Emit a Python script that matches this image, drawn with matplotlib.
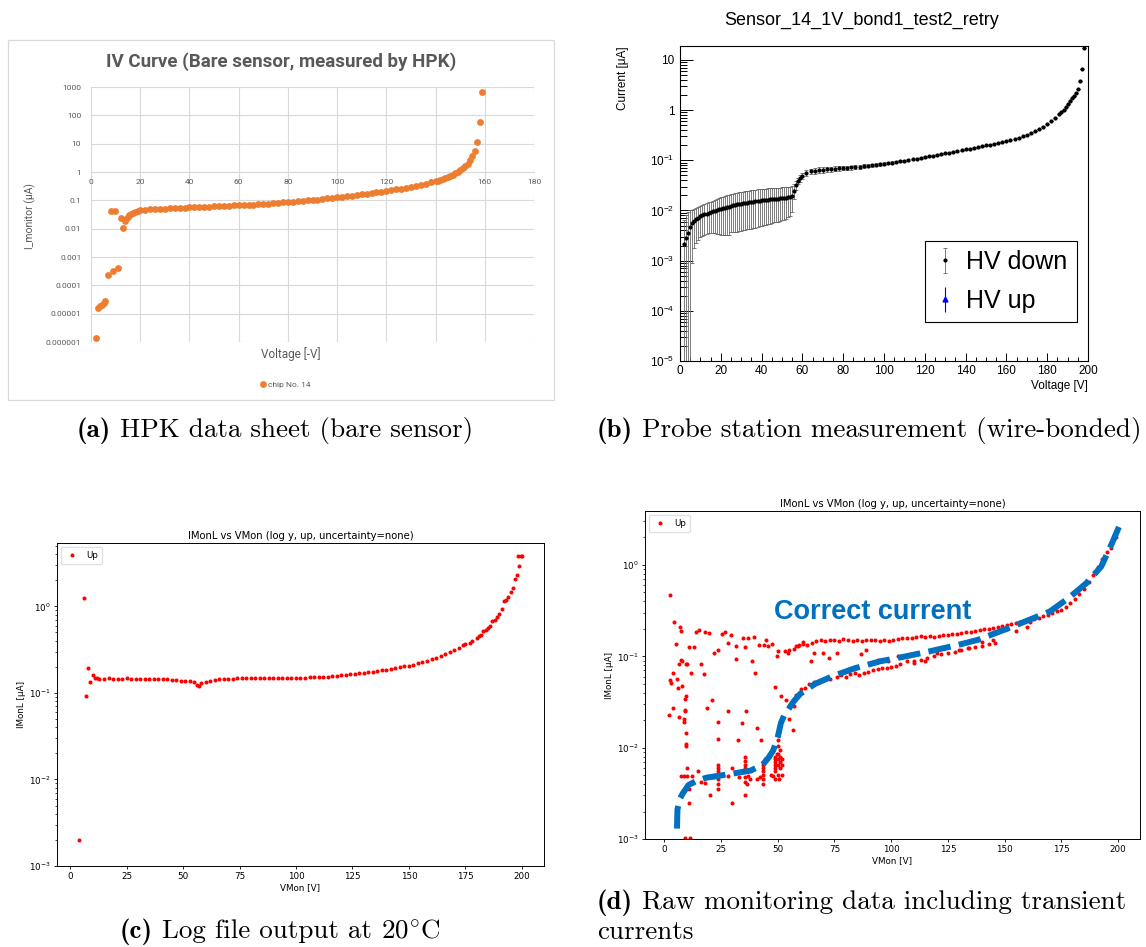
import numpy as np
import matplotlib
matplotlib.use('Agg')
import matplotlib.pyplot as plt
from matplotlib.patches import Rectangle
from matplotlib.ticker import NullLocator, NullFormatter, LogLocator, MultipleLocator
from matplotlib.offsetbox import TextArea, HPacker, AnchoredOffsetbox

W, H = 1146, 947

# ---------------- (a) HPK data sheet ----------------
a_v = [1.9, 2.9, 3.6, 4.3, 5.1, 5.8, 6.8, 8.0, 8.8, 9.8,
       10.9, 12.0, 12.9, 13.9, 14.4, 14.9, 15.5, 16.2, 17.0, 18.0,
       19.0, 20, 22, 24, 26, 28, 30, 32, 34, 36,
       38, 40, 42, 44, 46, 48, 50, 52, 54, 56,
       58, 60, 62, 64, 66, 68, 70, 72, 74, 76,
       78, 80, 82, 84, 86, 88, 90, 92, 94, 96,
       98, 100, 102, 104, 106, 108, 110, 112, 114, 116,
       118, 120, 122, 124, 126, 128, 130, 132, 134, 136,
       138, 140, 141, 142, 143, 144, 145, 146, 147, 148,
       149, 150, 151, 152, 153, 154, 155, 156, 157, 158,
       159]
a_i = [1.4e-6, 1.6e-5, 1.8e-5, 2.1e-5, 2.4e-5, 2.9e-5, 2.4e-4, 0.043, 3.1e-4, 0.042,
       4.2e-4, 0.023, 0.0102, 0.018, 0.022, 0.026, 0.030, 0.034, 0.037, 0.040,
       0.043, 0.045, 0.047, 0.048, 0.049, 0.050, 0.051, 0.052, 0.053, 0.054,
       0.055, 0.056, 0.057, 0.058, 0.059, 0.060, 0.061, 0.062, 0.063, 0.064,
       0.066, 0.067, 0.068, 0.070, 0.071, 0.073, 0.075, 0.077, 0.079, 0.082,
       0.084, 0.087, 0.090, 0.093, 0.096, 0.100, 0.103, 0.107, 0.112, 0.117,
       0.123, 0.130, 0.136, 0.142, 0.148, 0.155, 0.162, 0.171, 0.180, 0.190,
       0.201, 0.213, 0.227, 0.242, 0.260, 0.280, 0.300, 0.325, 0.355, 0.390,
       0.430, 0.470, 0.500, 0.530, 0.560, 0.600, 0.660, 0.720, 0.800, 0.900,
       1.02, 1.17, 1.35, 1.60, 1.95, 2.6, 3.6, 5.7, 11.3, 60,
       690]
a_yticks = [1e-6, 1e-5, 1e-4, 1e-3, 1e-2, 1e-1, 1, 10, 100, 1000]
a_ylabels = ['0.000001', '0.00001', '0.0001', '0.001', '0.01', '0.1', '1', '10', '100', '1000']
a_xticks = [0, 20, 40, 60, 80, 100, 120, 140, 160, 180]

# ---------------- (b) probe station ----------------
b_v = [2, 3, 4, 5, 6, 7, 8, 9, 10, 11,
       12, 13, 14, 15, 16, 17, 18, 19, 20, 21,
       22, 23, 24, 25, 26, 27, 28, 29, 30, 31,
       32, 33, 34, 35, 36, 37, 38, 39, 40, 41,
       42, 43, 44, 45, 46, 47, 48, 49, 50, 51,
       52, 53, 54, 55, 56, 57, 58, 59, 60, 62,
       64, 66, 68, 70, 72, 74, 76, 78, 80, 82,
       84, 86, 88, 90, 92, 94, 96, 98, 100, 102,
       104, 106, 108, 110, 112, 114, 116, 118, 120, 122,
       124, 126, 128, 130, 132, 134, 136, 138, 140, 142,
       144, 146, 148, 150, 152, 154, 156, 158, 160, 162,
       164, 166, 168, 170, 172, 174, 176, 178, 180, 182,
       184, 186, 187, 188, 189, 190, 191, 192, 193, 194,
       195, 196, 197, 198]
b_i = [0.0021, 0.0028, 0.0036, 0.0047, 0.0056, 0.0063, 0.0068, 0.0072, 0.0076, 0.0080,
       0.0084, 0.0087, 0.0090, 0.0093, 0.0096, 0.0099, 0.0102, 0.0105, 0.0108, 0.0110,
       0.0113, 0.0116, 0.0118, 0.0125, 0.0127, 0.0129, 0.0132, 0.0135, 0.0137, 0.0139,
       0.0141, 0.0143, 0.0146, 0.0148, 0.0150, 0.0152, 0.0155, 0.0158, 0.0160, 0.0161,
       0.0163, 0.0165, 0.0167, 0.0168, 0.0170, 0.0171, 0.0172, 0.0174, 0.0176, 0.0178,
       0.0180, 0.0183, 0.0187, 0.0198, 0.025, 0.032, 0.039, 0.044, 0.049, 0.056,
       0.060, 0.062, 0.064, 0.065, 0.066, 0.067, 0.068, 0.069, 0.070, 0.071,
       0.072, 0.074, 0.075, 0.077, 0.078, 0.080, 0.082, 0.084, 0.086, 0.088,
       0.090, 0.093, 0.095, 0.098, 0.101, 0.104, 0.108, 0.112, 0.116, 0.120,
       0.124, 0.129, 0.133, 0.138, 0.143, 0.148, 0.153, 0.159, 0.165, 0.171,
       0.177, 0.184, 0.191, 0.198, 0.205, 0.213, 0.222, 0.232, 0.242, 0.254,
       0.268, 0.283, 0.300, 0.325, 0.355, 0.385, 0.420, 0.470, 0.530, 0.600,
       0.700, 0.830, 0.920, 1.02, 1.15, 1.32, 1.52, 1.75, 1.93, 2.17,
       2.62, 3.8, 6.7, 17.6]
b_e = [0.0045, 0.0052, 0.0058, 0.0055, 0.0047, 0.0045, 0.0045, 0.0046, 0.0047, 0.0049,
       0.0051, 0.0053, 0.0055, 0.0058, 0.0061, 0.0064, 0.0068, 0.0071, 0.0075, 0.0077,
       0.0080, 0.0083, 0.0085, 0.0088, 0.0090, 0.0092, 0.0094, 0.0096, 0.0098, 0.0099,
       0.0100, 0.0101, 0.0103, 0.0105, 0.0106, 0.0107, 0.0108, 0.0109, 0.0110, 0.0110,
       0.0111, 0.0111, 0.0112, 0.0112, 0.0112, 0.0112, 0.0112, 0.0112, 0.0112, 0.0112,
       0.0111, 0.0110, 0.0110, 0.0105, 0.0080, 0.0060, 0.0060, 0.0065, 0.0070, 0.0075,
       0.0078, 0.0080, 0.0080, 0.0080, 0.0080, 0.0078, 0.0076, 0.0074, 0.0072, 0.0070,
       0.0068, 0.0066, 0.0064, 0.0062, 0.0060, 0.0058, 0.0056, 0.0054, 0.0052, 0.0050,
       0.0048, 0.0046, 0.0044, 0.0042, 0.0040, 0.0040, 0.0040, 0.0040, 0.0040, 0.0040,
       0.0040, 0.0040, 0.0040, 0.0040, 0.0040, 0.0040, 0.0040, 0.0040, 0.0040, 0.0040,
       0.0040, 0.0040, 0.0040, 0.0040, 0.0040, 0.0040, 0.0040, 0.0040, 0.0040, 0.0040,
       0.0040, 0.0040, 0.0040, 0.0040, 0.0040, 0.0040, 0.0040, 0.0040, 0.0040, 0.0040,
       0.0040, 0.0040, 0.0040, 0.0040, 0.0040, 0.0040, 0.0040, 0.0040, 0.0040, 0.0040,
       0.0040, 0.0040, 0.0040, 0.0040]
b_yticks = [1e-5, 1e-4, 1e-3, 1e-2, 1e-1, 1, 10]
b_ylabels = [r'$\mathdefault{10^{-5}}$', r'$\mathdefault{10^{-4}}$', r'$\mathdefault{10^{-3}}$',
             r'$\mathdefault{10^{-2}}$', r'$\mathdefault{10^{-1}}$', '1', '10']

# ---------------- (c) log file output ----------------
c_v = [4, 6, 7, 8, 9, 10, 11, 12, 13, 15,
       17, 19, 21, 23, 25, 27, 29, 31, 33, 35,
       37, 39, 41, 43, 45, 47, 49, 51, 53, 55,
       56, 57, 58, 60, 62, 64, 66, 68, 70, 72,
       74, 76, 78, 80, 82, 84, 86, 88, 90, 92,
       94, 96, 98, 100, 102, 104, 106, 108, 110, 112,
       114, 116, 118, 120, 122, 124, 126, 128, 130, 132,
       134, 136, 138, 140, 142, 144, 146, 148, 150, 152,
       154, 156, 158, 160, 162, 164, 166, 168, 170, 172,
       174, 175, 177, 178, 180, 181, 182, 183, 184, 185,
       186, 187, 188, 189, 190, 191, 192, 193, 194, 195,
       196, 197, 197.8, 198.2, 198.8, 199.6, 200]
c_i = [0.002, 1.24, 0.091, 0.195, 0.133, 0.16, 0.15, 0.147, 0.144, 0.146,
       0.147, 0.146, 0.146, 0.146, 0.147, 0.146, 0.146, 0.146, 0.145, 0.145,
       0.144, 0.144, 0.143, 0.143, 0.142, 0.14, 0.139, 0.138, 0.137, 0.135,
       0.123, 0.121, 0.129, 0.133, 0.138, 0.141, 0.143, 0.145, 0.146, 0.146,
       0.147, 0.147, 0.147, 0.148, 0.147, 0.147, 0.148, 0.148, 0.148, 0.148,
       0.148, 0.149, 0.149, 0.149, 0.15, 0.15, 0.151, 0.152, 0.152, 0.153,
       0.154, 0.156, 0.158, 0.16, 0.162, 0.164, 0.166, 0.168, 0.17, 0.173,
       0.175, 0.178, 0.182, 0.186, 0.19, 0.194, 0.198, 0.202, 0.207, 0.213,
       0.219, 0.226, 0.235, 0.245, 0.256, 0.268, 0.28, 0.296, 0.315, 0.33,
       0.355, 0.37, 0.38, 0.395, 0.43, 0.45, 0.47, 0.52, 0.53, 0.57,
       0.6, 0.68, 0.7, 0.76, 0.82, 0.93, 1.16, 1.17, 1.27, 1.45,
       1.63, 2.07, 2.3, 3.8, 2.9, 3.8, 3.8]
cd_xticks = [0, 25, 50, 75, 100, 125, 150, 175, 200]

# ---------------- (d) raw monitoring data ----------------
# stable "high" branch
d_hi_v = [55, 57, 59, 61, 63, 65, 67, 69, 71, 73,
          75, 77, 79, 81, 83, 85, 87, 89, 91, 93,
          95, 97, 99, 101, 103, 105, 107, 109, 111, 113,
          115, 117, 119, 121, 123, 125, 127, 129, 131, 133,
          135, 137, 139, 141, 143, 145, 147, 149, 151, 153,
          155, 157, 159, 161, 163, 165, 167, 169, 171, 173,
          175, 177, 179, 181, 183, 185, 187, 189, 191, 193,
          195, 197, 199]
d_hi_i = [0.118, 0.12, 0.13, 0.135, 0.132, 0.14, 0.148, 0.15, 0.147, 0.152,
          0.15, 0.148, 0.153, 0.15, 0.149, 0.151, 0.148, 0.15, 0.152, 0.15,
          0.149, 0.152, 0.147, 0.151, 0.153, 0.157, 0.16, 0.158, 0.162, 0.165,
          0.163, 0.166, 0.162, 0.168, 0.171, 0.17, 0.175, 0.176, 0.18, 0.183,
          0.186, 0.19, 0.194, 0.198, 0.2, 0.205, 0.21, 0.215, 0.222, 0.226,
          0.232, 0.238, 0.245, 0.25, 0.258, 0.265, 0.275, 0.285, 0.3, 0.31,
          0.325, 0.345, 0.38, 0.42, 0.48, 0.55, 0.65, 0.78, 0.95, 1.15,
          1.4, 1.55, 2.0]
# lower branch (close to the correct current)
d_lo_v = [56, 58, 60, 62, 64, 66, 68, 70, 73, 76,
          78, 80, 82, 84, 86, 88, 90, 92, 94, 96,
          98, 100, 102, 104, 107, 110, 113, 116, 119, 122,
          125, 128, 131, 134, 137, 140, 143, 146]
d_lo_i = [0.03, 0.038, 0.04, 0.045, 0.05, 0.052, 0.052, 0.055, 0.057, 0.06,
          0.062, 0.06, 0.064, 0.065, 0.063, 0.066, 0.068, 0.07, 0.072, 0.075,
          0.074, 0.077, 0.078, 0.082, 0.088, 0.09, 0.092, 0.095, 0.1, 0.105,
          0.11, 0.112, 0.118, 0.122, 0.127, 0.13, 0.135, 0.14]
# points in between
d_mid_v = [64.5, 65.8, 70, 72.6, 76.1, 86.5, 89, 94, 98.5, 103,
           110, 115, 120, 124, 130, 134.4, 140, 144.8, 151, 155, 160, 161]
d_mid_i = [0.088, 0.11, 0.11, 0.096, 0.108, 0.106, 0.117, 0.091, 0.088, 0.1,
           0.085, 0.089, 0.108, 0.128, 0.117, 0.122, 0.145, 0.15, 0.2, 0.187, 0.21, 0.24]
# transients at low voltage
d_tr_v = [2.4, 4.3, 5.1, 2.7, 3.0, 4.0, 1.9, 4.0, 5.6, 5.9,
          6.9, 7.2, 6.7, 7.2, 8.0, 7.8, 6.7, 8.8, 8.8, 9.1,
          9.4, 9.1, 9.3, 9.6, 9.7, 9.7, 9.4, 10.0, 10.7, 11.8,
          13.0, 13.9, 15.5, 16.4, 17.6, 17.9, 18.7, 19.5, 21.0, 21.9,
          23.5, 23.5, 23.5, 25.4, 26.7, 27.9, 28.3, 29.5, 31.5, 31.8,
          32.6, 34.2, 34.6, 35.4, 35.9, 37.0, 38.6, 39.4, 39.9, 41.0,
          41.8, 42.6, 44.0, 45.0, 45.8, 47.4, 48.7, 49.5, 50.3, 51.4,
          53.0, 53.8, 54.6, 55.1, 56.7, 57.3, 58.1, 59.5, 60.2, 61.3]
d_tr_i = [0.47, 0.24, 0.137, 0.055, 0.051, 0.066, 0.023, 0.027, 0.057, 0.045,
          0.21, 0.19, 0.082, 0.092, 0.09, 0.047, 0.0215, 0.0205, 0.019, 0.034,
          0.037, 0.026, 0.025, 0.0144, 0.011, 0.0105, 0.082, 0.083, 0.127, 0.066,
          0.125, 0.185, 0.195, 0.082, 0.064, 0.186, 0.027, 0.18, 0.033, 0.108,
          0.117, 0.019, 0.0123, 0.176, 0.186, 0.139, 0.0255, 0.17, 0.094, 0.13,
          0.012, 0.0187, 0.16, 0.128, 0.0253, 0.16, 0.089, 0.163, 0.065, 0.0163,
          0.132, 0.0121, 0.134, 0.151, 0.131, 0.137, 0.046, 0.1, 0.115, 0.037,
          0.114, 0.033, 0.109, 0.0206, 0.0158, 0.0285, 0.131, 0.133, 0.044, 0.145]
# low-current cluster below 55 V
d_low_v = [7.5, 8.8, 10.0, 10.2, 11.0, 11.0, 12.0, 14.7, 16.0, 18.0,
           20.0, 21.5, 23.5, 23.5, 23.5, 23.5, 23.5, 23.5, 26.0, 28.0,
           30.0, 30.0, 33.0, 35.4, 35.4, 35.4, 35.4, 35.4, 35.4, 35.4,
           35.4, 36.5, 37.0, 38.0, 41.0, 42.0, 43.4, 43.4, 43.4, 43.4,
           43.4, 43.4, 43.4, 44.2, 47.0, 48.0, 49.0, 49.0, 49.0, 49.0,
           49.0, 49.0, 49.0, 49.5, 50.0, 50.0, 50.0, 50.0, 50.5, 51.0,
           51.0, 51.0, 52.0, 52.0, 52.0, 51.0, 50.0, 50.0, 9.1, 11.5]
d_low_i = [0.0049, 0.0049, 0.0049, 0.006, 0.0035, 0.0025, 0.0049, 0.0055, 0.0042, 0.0041,
           0.003, 0.0048, 0.0045, 0.0055, 0.006, 0.0065, 0.004, 0.0035, 0.005, 0.0049,
           0.006, 0.0025, 0.0048, 0.0042, 0.0048, 0.0055, 0.006, 0.0065, 0.0072, 0.008,
           0.003, 0.004, 0.0049, 0.0045, 0.0045, 0.0048, 0.004, 0.0045, 0.005, 0.0055,
           0.006, 0.0065, 0.007, 0.0075, 0.005, 0.0049, 0.0045, 0.0055, 0.006, 0.0065,
           0.007, 0.0075, 0.008, 0.0085, 0.005, 0.0065, 0.0075, 0.0085, 0.0045, 0.006,
           0.007, 0.008, 0.005, 0.0065, 0.0075, 0.0095, 0.0105, 0.012, 0.00102, 0.00102]
# hand-drawn "correct current" guide
d_fit_v = [5.6, 5.8, 7.0, 8.3, 10.7, 14.0, 18.7, 28.0, 38.0, 43.4,
           46.0, 48.0, 50.0, 51.4, 53.0, 54.6, 57.0, 60.0, 66.5, 74.5,
           84.0, 95.0, 106.5, 116.0, 130.4, 138.4, 151.0, 160.7, 170.0, 178.0,
           186.0, 192.6, 197.4, 201.4]
d_fit_i = [0.0013, 0.0021, 0.0028, 0.0032, 0.0039, 0.0043, 0.0047, 0.0051, 0.0056, 0.0065,
           0.0078, 0.0093, 0.013, 0.0186, 0.023, 0.026, 0.032, 0.039, 0.05, 0.061,
           0.074, 0.088, 0.1, 0.112, 0.135, 0.152, 0.2, 0.25, 0.31, 0.43,
           0.63, 0.96, 1.74, 2.98]

fig = plt.figure(figsize=(W / 100, H / 100), dpi=100)
fig.patch.set_facecolor('white')


def box(l, t, r, b):
    # axes from pixel edges (left, top, right, bottom)
    return fig.add_axes([l / W, 1 - b / H, (r - l) / W, (b - t) / H])


# ================= panel (a) =================
grey = '#595959'
fig.add_artist(Rectangle((8 / W, 1 - 400 / H), 546 / W, 360 / H, transform=fig.transFigure,
                         fill=False, ec='#d9d9d9', lw=0.9))
axa = box(91, 87, 534, 342)
axa.set_yscale('log')
axa.plot(a_v, a_i, 'o', color='#ED7D31', ms=4.9, mew=0, label='chip No. 14', zorder=3)
axa.set_xlim(0, 180)
axa.set_ylim(1e-6, 1000)
axa.set_yticks(a_yticks, a_ylabels)
axa.yaxis.set_minor_locator(NullLocator())
axa.set_xticks(a_xticks)
axa.grid(True, color='#d9d9d9', lw=0.8)
axa.set_axisbelow(True)
for s in ('top', 'right', 'left'):
    axa.spines[s].set_visible(False)
axa.spines['bottom'].set_position(('data', 1))
axa.spines['bottom'].set_color('#d9d9d9')
axa.tick_params(length=0, labelsize=6, labelcolor=grey)
axa.tick_params(axis='x', pad=5)
axa.tick_params(axis='y', pad=7)
for lab in axa.get_xticklabels() + axa.get_yticklabels():
    lab.set_family('Roboto')
fig.text(281 / W, 1 - 62 / H, 'IV Curve (Bare sensor, measured by HPK)', ha='center', va='center',
         fontsize=13.5, fontweight='bold', color=grey, family='Roboto')
fig.text(30 / W, 1 - 216 / H, 'I_monitor (μA)', rotation=90, ha='center', va='center',
         fontsize=7.5, color=grey, family='Roboto')
fig.text(291 / W, 1 - 354 / H, 'Voltage [-V]', ha='center', va='center',
         fontsize=8.5, color=grey, family='Roboto')
axa.legend(loc='center', bbox_to_anchor=(285 / W, 1 - 385 / H), bbox_transform=fig.transFigure,
           frameon=False, prop={'family': 'Roboto', 'size': 6}, handlelength=0.6,
           handletextpad=0.3, labelcolor=grey)

# ================= panel (b) =================
axb = box(680, 46, 1088, 361)
axb.set_yscale('log')
axb.errorbar(b_v, b_i, yerr=b_e, fmt='o', ms=2.0, color='black', ecolor='0.4',
             elinewidth=0.6, capsize=1.2, capthick=0.6, label='HV down')
axb.errorbar([], [], yerr=[], fmt='^', ms=3.5, color='blue', ecolor='blue',
             elinewidth=0.8, capsize=2, capthick=0.8, label='HV up')
axb.set_xlim(0, 200)
axb.set_ylim(1e-5, 19)
axb.xaxis.set_major_locator(MultipleLocator(20))
axb.xaxis.set_minor_locator(MultipleLocator(5))
axb.set_yticks(b_yticks, b_ylabels)
axb.yaxis.set_minor_locator(LogLocator(base=10, subs=[2, 3, 4, 5, 6, 7, 8, 9]))
axb.yaxis.set_minor_formatter(NullFormatter())
axb.tick_params(which='both', direction='in', top=False, right=False, labelsize=8.5, width=0.7)
axb.tick_params(axis='y', which='major', length=9.5, pad=4)
axb.tick_params(axis='y', which='minor', length=5)
axb.tick_params(axis='x', which='major', length=6, pad=3)
axb.tick_params(axis='x', which='minor', length=3)
for s in axb.spines.values():
    s.set_linewidth(0.8)
for lab in axb.get_xticklabels() + axb.get_yticklabels():
    lab.set_family('Liberation Sans')
fig.text(862 / W, 1 - 20 / H, 'Sensor_14_1V_bond1_test2_retry', ha='center', va='center',
         fontsize=13, family='Liberation Sans')
axb.text(-0.14, 1.0, 'Current [μA]', rotation=90, ha='center', va='top',
         transform=axb.transAxes, fontsize=8.5, family='Liberation Sans')
axb.text(1.0, -0.06, 'Voltage [V]', ha='right', va='top',
         transform=axb.transAxes, fontsize=8.5, family='Liberation Sans')
legb = axb.legend(loc='lower left', bbox_to_anchor=(0.60, 0.124, 0.373, 0.251), mode='expand',
                  prop={'family': 'Liberation Sans', 'size': 18}, frameon=True, fancybox=False,
                  edgecolor='black', framealpha=1, handlelength=0.9, handletextpad=0.4,
                  borderpad=0.35, labelspacing=0.6, borderaxespad=0)
legb.get_frame().set_linewidth(0.8)

# ================= panel (c) =================
title_cd = 'IMonL vs VMon (log y, up, uncertainty=none)'


def style_cd(ax):
    ax.set_yscale('log')
    ax.set_xticks(cd_xticks)
    ax.set_title(title_cd, fontsize=7.2, pad=3)
    ax.set_xlabel('VMon [V]', fontsize=6.3, labelpad=1.5)
    ax.set_ylabel('IMonL [μA]', fontsize=6.3, labelpad=2)
    ax.tick_params(labelsize=6.3, length=2.5, width=0.6, pad=2)
    ax.tick_params(which='minor', length=1.5, width=0.5)
    for s in ax.spines.values():
        s.set_linewidth(0.7)
    ax.legend(loc='upper left', fontsize=6.3, handlelength=1.6, borderpad=0.5,
              borderaxespad=0.4, edgecolor='0.85')


axc = box(57, 543, 544, 866)
axc.plot(c_v, c_i, 'o', color='red', ms=2.9, mew=0, ls='none', label='Up')
axc.set_xlim(-5.8, 209.8)
axc.set_ylim(1e-3, 5.4)
style_cd(axc)

# ================= panel (d) =================
axd = box(645, 511, 1140, 839)
d_v = d_tr_v + d_low_v + d_hi_v + d_lo_v + d_mid_v
d_i = d_tr_i + d_low_i + d_hi_i + d_lo_i + d_mid_i
axd.plot(d_v, d_i, 'o', color='red', ms=2.9, mew=0, ls='none', label='Up')
axd.plot(d_fit_v, d_fit_i, color='#0070C0', lw=4.3, dashes=(3.8, 1.4), zorder=4)
axd.set_xlim(-8.5, 209.7)
axd.set_ylim(1e-3, 3.9)
style_cd(axd)
axd.text(0.46, 0.692, 'Correct current', transform=axd.transAxes, ha='center', va='center',
         fontsize=19.5, fontweight='bold', color='#0070C0', family='Liberation Sans')

# ================= captions =================
bold = dict(family='cmb10', fontsize=19.5)
reg = dict(family='cmr10', fontsize=19.5)
mth = dict(family='cmr10', math_fontfamily='cm', fontsize=19.5)


def caption(parts, x, y, loc):
    areas = [TextArea(t, textprops=p) for t, p in parts]
    pack = HPacker(children=areas, align='baseline', pad=0, sep=0)
    ab = AnchoredOffsetbox(loc=loc, child=pack, pad=0, borderpad=0, frameon=False,
                           bbox_to_anchor=(x / W, 1 - y / H), bbox_transform=fig.transFigure)
    fig.add_artist(ab)


caption([('(a)', bold), (' HPK data sheet (bare sensor)', reg)], 275, 431, 'center')
caption([('(b)', bold), (' Probe station measurement (wire-bonded)', reg)], 869, 431, 'center')
caption([('(c)', bold), (' Log file output at ', reg), (r'$\mathrm{20^{\circ}C}$', mth)],
        280, 932, 'center')
caption([('(d)', bold), (' Raw monitoring data including transient', reg)], 597, 903, 'center left')
caption([('currents', reg)], 597, 932, 'center left')

fig.savefig('out.png', dpi=100, facecolor='white')
